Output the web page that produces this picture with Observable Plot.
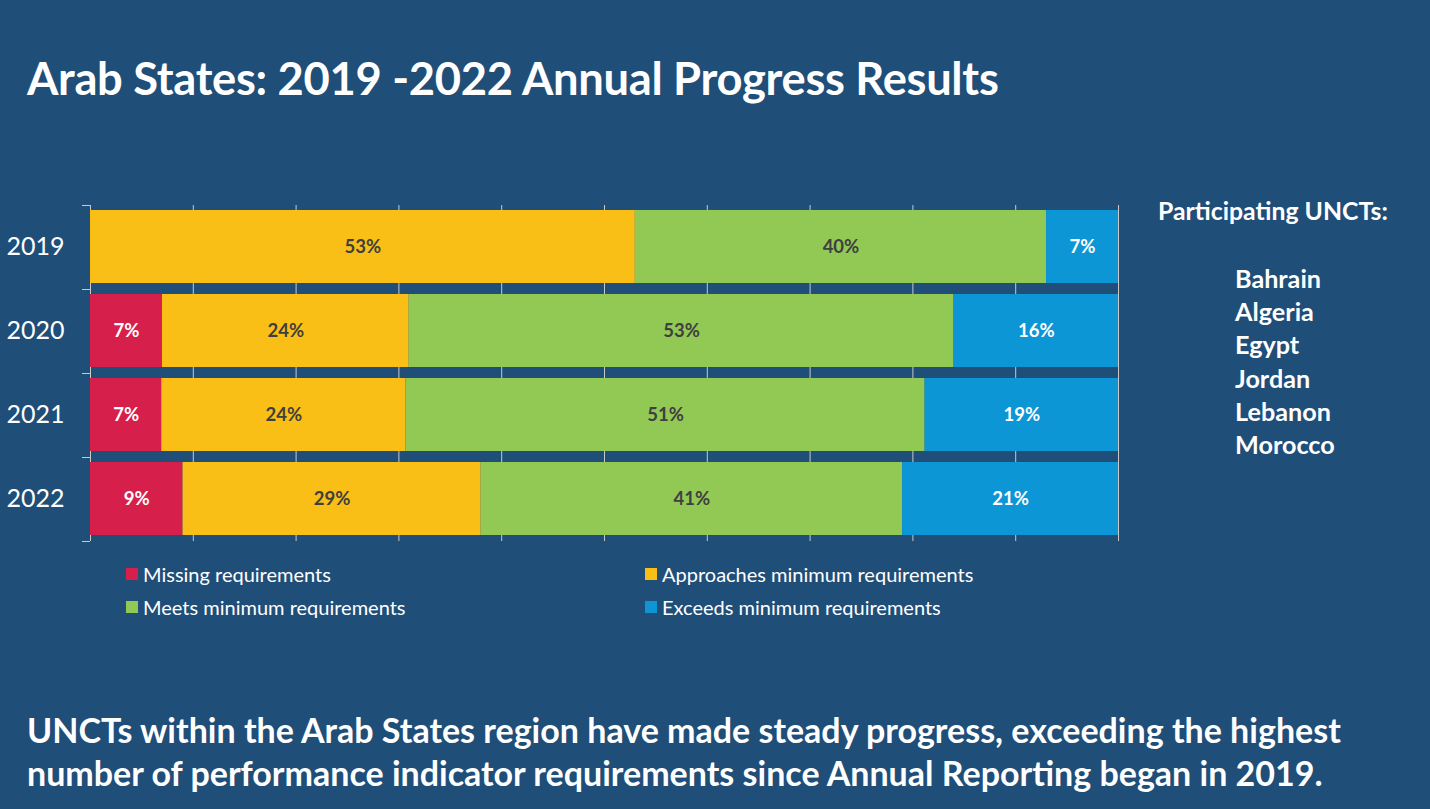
<!DOCTYPE html>
<html>
<head>
<meta charset="utf-8">
<script src="https://cdn.jsdelivr.net/npm/d3@7"></script>
<script src="https://cdn.jsdelivr.net/npm/@observablehq/plot@0.6"></script>
<style>
  html, body { margin: 0; padding: 0; }
  body { width: 1430px; height: 809px; overflow: hidden; background: #1f4e79; font-family: Lato, "Open Sans", sans-serif; color: #fff; }
  #page { position: relative; width: 1430px; height: 809px; background: #1f4e79; }
  #title { position: absolute; left: 27px; top: 50px; font-size: 45.3px; font-weight: 700; white-space: nowrap; letter-spacing: -0.3px; }
  #chart { position: absolute; left: 0; top: 195px; }
  #legend { position: absolute; left: 126px; top: 562px; width: 900px; font-size: 20px; }
  .li { position: absolute; white-space: nowrap; display: flex; align-items: center; }
  .sw { width: 12px; height: 12px; margin-right: 5px; display: inline-block; }
  #side { position: absolute; left: 1158px; top: 196px; font-weight: 700; }
  #side .hd { font-size: 24.8px; white-space: nowrap; }
  #side ul { list-style: none; margin: 0; padding: 0; position: absolute; left: 77px; top: 66px; font-size: 25.2px; line-height: 33.2px; white-space: nowrap; }
  #caption { position: absolute; left: 27px; top: 708px; font-size: 34px; font-weight: 700; line-height: 43px; white-space: nowrap; }
</style>
</head>
<body>
<div id="page">
  <div id="title">Arab States: 2019 -2022 Annual Progress Results</div>
  <div id="chart"></div>
  <div id="legend"></div>
  <div id="side">
    <div class="hd">Participating UNCTs:</div>
    <ul id="countries"></ul>
  </div>
  <div id="caption">UNCTs within the Arab States region have made steady progress, exceeding the highest<br>number of performance indicator requirements since Annual Reporting began in 2019.</div>
</div>
<script>
// ---- data ----
const years = ["2019", "2020", "2021", "2022"];
const categories = ["Missing requirements", "Approaches minimum requirements", "Meets minimum requirements", "Exceeds minimum requirements"];
const missing = [0, 7, 7, 9];
const approaches = [53, 24, 24, 29];
const meets = [40, 53, 51, 41];
const exceeds = [7, 16, 19, 21];
const colors = ["#d71f4b", "#f9bf16", "#92c955", "#0c96d6"];
const gridTicks = [0, 0.1, 0.2, 0.3, 0.4, 0.5, 0.6, 0.7, 0.8, 0.9, 1];
const countries = ["Bahrain", "Algeria", "Egypt", "Jordan", "Lebanon", "Morocco"];

const series = [missing, approaches, meets, exceeds];
const rows = [];
years.forEach((y, i) => {
  categories.forEach((c, j) => {
    const v = series[j][i];
    if (v > 0) rows.push({ year: y, cat: c, value: v });
  });
});

const labelColor = {
  "Missing requirements": "#ffffff",
  "Approaches minimum requirements": "#3f3f3f",
  "Meets minimum requirements": "#3f3f3f",
  "Exceeds minimum requirements": "#ffffff"
};

// band boundary ticks on the left axis, drawn from the y scale
function bandBoundaryTicks(index, scales, values, dimensions) {
  const y = scales.y;
  const step = y.step();
  const r = y.range();
  const x0 = dimensions.marginLeft;
  const g = d3.create("svg:g").attr("stroke", "#c9c9c9").attr("stroke-width", 1);
  for (let i = 0; i <= years.length; i++) {
    const yy = Math.round(r[0] + i * step) + 0.5;
    g.append("line").attr("x1", x0 - 8).attr("x2", x0).attr("y1", yy).attr("y2", yy);
  }
  return g.node();
}

const plot = Plot.plot({
  width: 1140,
  height: 355,
  marginLeft: 90,
  marginRight: 22,
  marginTop: 10,
  marginBottom: 9,
  style: { background: "transparent", color: "#ffffff", fontFamily: "Lato, 'Open Sans', sans-serif", overflow: "visible" },
  x: { domain: [0, 1], axis: null },
  y: { domain: years, paddingInner: 0.13, paddingOuter: 0.065, label: null },
  color: { domain: categories, range: colors },
  marks: [
    Plot.ruleX(gridTicks, { stroke: "#c9c9c9", strokeWidth: 1 }),
    Plot.barX(rows, Plot.stackX({ x: "value", y: "year", fill: "cat", order: categories, offset: "normalize" })),
    Plot.text(rows, Plot.stackX({
      x: "value", y: "year", z: "cat", order: categories, offset: "normalize",
      text: d => d.value + "%",
      fill: d => labelColor[d.cat],
      fontSize: 18.5, fontWeight: 700
    })),
    bandBoundaryTicks,
    Plot.axisY({ tickSize: 0, tickPadding: 26, fontSize: 25, fill: "#ffffff", label: null })
  ]
});
document.getElementById("chart").appendChild(plot);

// legend
const legend = document.getElementById("legend");
const pos = [[0, 0], [519, 0], [0, 33], [519, 33]];
categories.forEach((c, i) => {
  const el = document.createElement("div");
  el.className = "li";
  el.style.left = pos[i][0] + "px";
  el.style.top = pos[i][1] + "px";
  el.innerHTML = `<span class="sw" style="background:${colors[i]}"></span><span>${c}</span>`;
  legend.appendChild(el);
});

// countries
const ul = document.getElementById("countries");
countries.forEach(c => { const li = document.createElement("li"); li.textContent = c; ul.appendChild(li); });
</script>
</body>
</html>
